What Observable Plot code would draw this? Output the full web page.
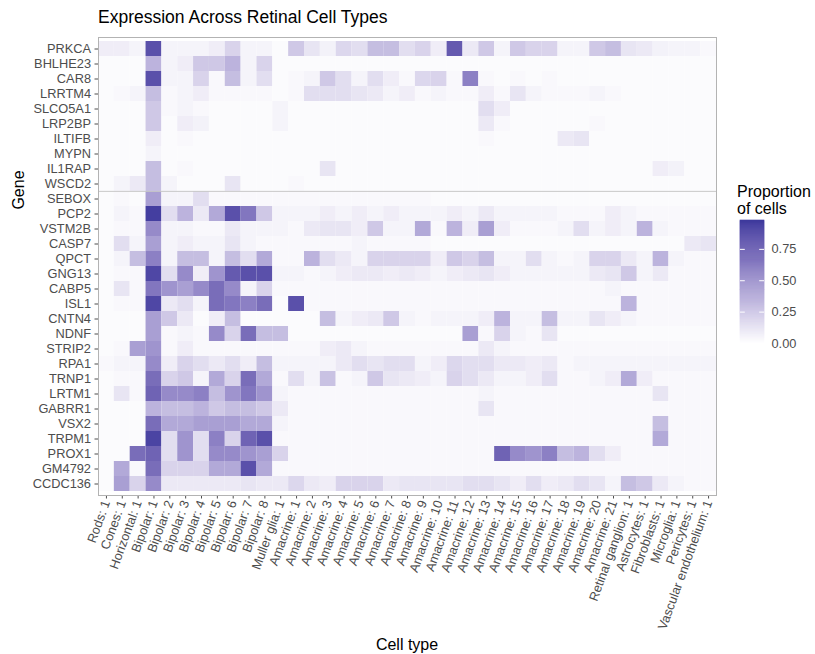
<!DOCTYPE html>
<html><head><meta charset="utf-8">
<script src="https://cdn.jsdelivr.net/npm/d3@7"></script>
<script src="https://cdn.jsdelivr.net/npm/@observablehq/plot@0.6"></script>
<style>
body{margin:0;background:#fff;font-family:"Liberation Sans",Arial,sans-serif;}
#wrap{position:relative;width:815px;height:654px;overflow:hidden;}
#wrap svg{position:absolute;}
.abs{position:absolute;white-space:nowrap;color:#000;}
</style></head><body>
<div id="wrap">
<div id="main"></div>
<div id="leg"></div>
<div class="abs" style="left:98px;top:9px;font-size:17.5px;line-height:17.5px;">Expression Across Retinal Cell Types</div>
<div class="abs" style="left:19px;top:190px;font-size:16px;line-height:16px;transform:translate(-50%,-50%) rotate(-90deg);">Gene</div>
<div class="abs" style="left:407px;top:645px;font-size:16px;line-height:16px;transform:translate(-50%,-50%);">Cell type</div>
<div class="abs" style="left:737px;top:183px;font-size:16px;line-height:17px;">Proportion<br>of cells</div>
</div>
<script>
const cellTypes = ["Rods: 1","Cones: 1","Horizontal: 1","Bipolar: 1","Bipolar: 2","Bipolar: 3","Bipolar: 4","Bipolar: 5","Bipolar: 6","Bipolar: 7","Bipolar: 8","Muller glia: 1",
"Amacrine: 1","Amacrine: 2","Amacrine: 3","Amacrine: 4","Amacrine: 5","Amacrine: 6","Amacrine: 7","Amacrine: 8","Amacrine: 9","Amacrine: 10","Amacrine: 11","Amacrine: 12","Amacrine: 13","Amacrine: 14","Amacrine: 15","Amacrine: 16","Amacrine: 17","Amacrine: 18","Amacrine: 19","Amacrine: 20","Amacrine: 21",
"Retinal ganglion: 1","Astrocytes: 1","Fibroblasts: 1","Microglia: 1","Pericytes: 1","Vascular endothelium: 1"];
const genes = ["PRKCA","BHLHE23","CAR8","LRRTM4","SLCO5A1","LRP2BP","ILTIFB","MYPN","IL1RAP","WSCD2","SEBOX","PCP2","VSTM2B","CASP7","QPCT","GNG13","CABP5","ISL1","CNTN4","NDNF","STRIP2","RPA1","TRNP1","LRTM1","GABRR1","VSX2","TRPM1","PROX1","GM4792","CCDC136"];
const legendTicks = [0, 0.25, 0.5, 0.75];

// proportion of cells per gene, in cellTypes order
const PRKCA   = [0.08,0.08,0.05,0.85,0.05,0.05,0.05,0.08,0.20,0.05,0.05,0.02, 0.25,0.12,0.06,0.18,0.15,0.30,0.30,0.15,0.20,0.08,0.80,0.10,0.25,0.05,0.25,0.20,0.20,0.05,0.05,0.25,0.30, 0.12,0.10,0.06,0.05,0.05,0.03];
const BHLHE23 = [0.02,0.02,0.02,0.35,0.05,0.08,0.25,0.25,0.35,0.05,0.20,0.02, 0.02,0.02,0.02,0.02,0.02,0.02,0.02,0.02,0.02,0.02,0.02,0.02,0.02,0.02,0.02,0.02,0.02,0.02,0.02,0.02,0.02, 0.02,0.02,0.02,0.02,0.02,0.02];
const CAR8    = [0.02,0.02,0.02,0.85,0.05,0.05,0.20,0.03,0.30,0.05,0.15,0.02, 0.03,0.05,0.25,0.15,0.05,0.15,0.08,0.03,0.18,0.20,0.03,0.60,0.03,0.02,0.03,0.02,0.03,0.02,0.02,0.02,0.02, 0.02,0.02,0.02,0.02,0.02,0.02];
const LRRTM4  = [0.02,0.03,0.05,0.30,0.03,0.05,0.08,0.03,0.03,0.03,0.03,0.02, 0.03,0.15,0.15,0.15,0.12,0.10,0.05,0.08,0.03,0.05,0.03,0.03,0.08,0.03,0.12,0.05,0.03,0.03,0.03,0.05,0.03, 0.02,0.02,0.02,0.02,0.02,0.02];
const SLCO5A1 = [0.02,0.02,0.02,0.25,0.03,0.05,0.03,0.02,0.02,0.02,0.02,0.05, 0.02,0.02,0.02,0.02,0.02,0.02,0.02,0.02,0.02,0.02,0.02,0.02,0.15,0.08,0.02,0.02,0.02,0.02,0.02,0.02,0.02, 0.02,0.02,0.02,0.02,0.02,0.02];
const LRP2BP  = [0.02,0.02,0.02,0.25,0.02,0.08,0.06,0.02,0.02,0.02,0.02,0.05, 0.02,0.02,0.02,0.02,0.02,0.02,0.02,0.02,0.02,0.02,0.02,0.02,0.10,0.03,0.02,0.02,0.02,0.02,0.02,0.03,0.02, 0.02,0.02,0.02,0.02,0.02,0.02];
const ILTIFB  = [0.02,0.02,0.02,0.08,0.02,0.03,0.02,0.02,0.02,0.02,0.02,0.02, 0.02,0.02,0.02,0.02,0.02,0.02,0.02,0.02,0.02,0.02,0.02,0.02,0.03,0.02,0.02,0.02,0.02,0.10,0.12,0.02,0.02, 0.02,0.02,0.02,0.02,0.02,0.02];
const MYPN    = [0.02,0.02,0.02,0.05,0.02,0.02,0.02,0.02,0.02,0.02,0.02,0.02, 0.02,0.02,0.02,0.02,0.02,0.02,0.02,0.02,0.02,0.02,0.02,0.02,0.02,0.02,0.02,0.02,0.02,0.02,0.02,0.02,0.02, 0.02,0.02,0.02,0.02,0.02,0.02];
const IL1RAP  = [0.02,0.02,0.02,0.30,0.02,0.03,0.02,0.02,0.02,0.02,0.02,0.02, 0.02,0.02,0.12,0.02,0.02,0.02,0.02,0.02,0.02,0.02,0.02,0.02,0.02,0.02,0.02,0.02,0.02,0.02,0.02,0.02,0.02, 0.02,0.02,0.08,0.06,0.02,0.02];
const WSCD2   = [0.02,0.05,0.10,0.30,0.05,0.02,0.02,0.02,0.12,0.02,0.02,0.02, 0.03,0.02,0.02,0.02,0.02,0.02,0.02,0.02,0.02,0.02,0.02,0.02,0.02,0.02,0.02,0.02,0.02,0.02,0.02,0.02,0.02, 0.02,0.02,0.02,0.02,0.02,0.02];
const SEBOX   = [0.02,0.03,0.02,0.45,0.05,0.05,0.15,0.03,0.03,0.03,0.03,0.03, 0.03,0.03,0.03,0.03,0.03,0.03,0.03,0.03,0.03,0.02,0.02,0.02,0.02,0.02,0.02,0.02,0.02,0.02,0.02,0.02,0.02, 0.02,0.02,0.02,0.02,0.02,0.02];
const PCP2    = [0.02,0.05,0.03,0.95,0.15,0.35,0.10,0.40,0.85,0.65,0.25,0.05, 0.05,0.05,0.08,0.05,0.08,0.05,0.08,0.05,0.05,0.05,0.08,0.05,0.10,0.05,0.05,0.05,0.05,0.03,0.03,0.03,0.08, 0.05,0.03,0.03,0.03,0.03,0.03];
const VSTM2B  = [0.02,0.03,0.03,0.55,0.05,0.05,0.03,0.03,0.10,0.05,0.05,0.05, 0.03,0.10,0.12,0.12,0.08,0.25,0.05,0.05,0.40,0.03,0.35,0.08,0.45,0.08,0.03,0.03,0.03,0.05,0.15,0.05,0.08, 0.05,0.35,0.05,0.03,0.03,0.03];
const CASP7   = [0.02,0.15,0.05,0.45,0.05,0.08,0.05,0.05,0.12,0.05,0.03,0.03, 0.03,0.03,0.03,0.03,0.05,0.03,0.03,0.03,0.03,0.02,0.02,0.02,0.02,0.02,0.02,0.02,0.02,0.02,0.02,0.02,0.02, 0.02,0.02,0.02,0.02,0.10,0.12];
const QPCT    = [0.02,0.05,0.30,0.60,0.05,0.30,0.30,0.05,0.30,0.15,0.40,0.03, 0.03,0.35,0.15,0.10,0.05,0.20,0.20,0.20,0.20,0.08,0.25,0.20,0.30,0.05,0.05,0.15,0.05,0.03,0.05,0.20,0.20, 0.10,0.05,0.35,0.05,0.03,0.03];
const GNG13   = [0.02,0.03,0.03,0.90,0.15,0.55,0.08,0.50,0.80,0.85,0.85,0.05, 0.05,0.03,0.05,0.08,0.10,0.10,0.08,0.10,0.08,0.05,0.08,0.10,0.12,0.08,0.05,0.05,0.05,0.05,0.05,0.10,0.12, 0.25,0.05,0.10,0.03,0.03,0.03];
const CABP5   = [0.02,0.12,0.03,0.65,0.50,0.45,0.55,0.70,0.55,0.05,0.20,0.03, 0.03,0.03,0.03,0.03,0.03,0.03,0.03,0.03,0.03,0.03,0.03,0.03,0.03,0.03,0.03,0.03,0.03,0.03,0.03,0.03,0.05, 0.03,0.03,0.03,0.03,0.03,0.03];
const ISL1    = [0.02,0.03,0.03,0.90,0.10,0.15,0.05,0.70,0.65,0.60,0.70,0.02, 0.85,0.03,0.03,0.03,0.03,0.03,0.03,0.03,0.03,0.03,0.03,0.03,0.03,0.03,0.03,0.03,0.03,0.03,0.03,0.03,0.03, 0.35,0.03,0.03,0.03,0.03,0.03];
const CNTN4   = [0.02,0.02,0.02,0.45,0.25,0.10,0.02,0.08,0.30,0.02,0.02,0.02, 0.02,0.02,0.30,0.05,0.08,0.10,0.25,0.05,0.03,0.05,0.05,0.05,0.08,0.35,0.05,0.05,0.30,0.05,0.05,0.12,0.08, 0.05,0.03,0.03,0.03,0.03,0.03];
const NDNF    = [0.02,0.02,0.02,0.45,0.03,0.05,0.03,0.55,0.20,0.70,0.30,0.30, 0.02,0.02,0.02,0.02,0.02,0.02,0.02,0.02,0.02,0.02,0.02,0.45,0.03,0.20,0.05,0.03,0.12,0.02,0.02,0.02,0.02, 0.02,0.02,0.02,0.02,0.02,0.02];
const STRIP2  = [0.02,0.03,0.45,0.50,0.03,0.08,0.03,0.03,0.03,0.03,0.03,0.03, 0.03,0.03,0.08,0.10,0.05,0.03,0.03,0.03,0.03,0.03,0.03,0.03,0.10,0.05,0.03,0.03,0.03,0.03,0.03,0.03,0.03, 0.03,0.03,0.03,0.03,0.03,0.03];
const RPA1    = [0.03,0.05,0.05,0.55,0.08,0.20,0.15,0.10,0.15,0.08,0.30,0.05, 0.05,0.05,0.05,0.10,0.15,0.12,0.15,0.15,0.05,0.08,0.18,0.15,0.15,0.10,0.10,0.08,0.10,0.03,0.05,0.05,0.05, 0.05,0.05,0.05,0.05,0.05,0.05];
const TRNP1   = [0.02,0.03,0.03,0.70,0.20,0.25,0.05,0.40,0.20,0.70,0.40,0.03, 0.15,0.05,0.28,0.03,0.05,0.25,0.12,0.10,0.08,0.05,0.20,0.15,0.10,0.05,0.05,0.08,0.15,0.03,0.03,0.05,0.08, 0.40,0.08,0.03,0.03,0.03,0.03];
const LRTM1   = [0.02,0.12,0.03,0.75,0.55,0.55,0.60,0.30,0.50,0.65,0.50,0.05, 0.03,0.03,0.03,0.03,0.03,0.03,0.03,0.03,0.03,0.03,0.03,0.03,0.05,0.03,0.03,0.03,0.03,0.03,0.03,0.03,0.03, 0.03,0.03,0.12,0.03,0.03,0.03];
const GABRR1  = [0.02,0.02,0.02,0.35,0.30,0.30,0.35,0.25,0.30,0.30,0.25,0.10, 0.03,0.03,0.03,0.03,0.03,0.03,0.03,0.03,0.03,0.03,0.03,0.03,0.12,0.03,0.03,0.03,0.03,0.03,0.03,0.03,0.03, 0.03,0.03,0.03,0.03,0.03,0.03];
const VSX2    = [0.02,0.02,0.02,0.70,0.40,0.40,0.45,0.45,0.45,0.40,0.40,0.05, 0.03,0.03,0.03,0.03,0.03,0.03,0.03,0.03,0.03,0.03,0.03,0.03,0.03,0.03,0.03,0.03,0.03,0.03,0.03,0.03,0.03, 0.03,0.03,0.30,0.03,0.03,0.03];
const TRPM1   = [0.02,0.02,0.02,0.92,0.15,0.50,0.15,0.60,0.20,0.75,0.85,0.03, 0.03,0.03,0.03,0.03,0.03,0.03,0.03,0.03,0.03,0.03,0.03,0.03,0.03,0.03,0.03,0.03,0.03,0.03,0.03,0.03,0.03, 0.03,0.03,0.40,0.03,0.03,0.03];
const PROX1   = [0.02,0.02,0.70,0.75,0.15,0.50,0.15,0.55,0.55,0.50,0.45,0.20, 0.03,0.03,0.03,0.03,0.03,0.03,0.03,0.03,0.03,0.03,0.03,0.03,0.03,0.75,0.55,0.50,0.60,0.30,0.35,0.15,0.08, 0.03,0.03,0.03,0.03,0.03,0.03];
const GM4792  = [0.02,0.40,0.03,0.70,0.20,0.20,0.20,0.40,0.40,0.85,0.40,0.03, 0.03,0.03,0.03,0.03,0.03,0.03,0.03,0.03,0.03,0.03,0.03,0.03,0.03,0.03,0.03,0.03,0.03,0.03,0.03,0.03,0.03, 0.03,0.03,0.03,0.03,0.03,0.03];
const CCDC136 = [0.02,0.45,0.20,0.55,0.10,0.10,0.10,0.10,0.10,0.12,0.10,0.10, 0.18,0.10,0.08,0.20,0.20,0.20,0.10,0.12,0.12,0.12,0.12,0.15,0.15,0.12,0.08,0.15,0.08,0.10,0.15,0.12,0.05, 0.30,0.25,0.10,0.05,0.03,0.03];

const geneRows = [PRKCA,BHLHE23,CAR8,LRRTM4,SLCO5A1,LRP2BP,ILTIFB,MYPN,IL1RAP,WSCD2,SEBOX,PCP2,VSTM2B,CASP7,QPCT,GNG13,CABP5,ISL1,CNTN4,NDNF,STRIP2,RPA1,TRNP1,LRTM1,GABRR1,VSX2,TRPM1,PROX1,GM4792,CCDC136];

geneRows.forEach((r, i) => { if (r.length !== cellTypes.length) throw new Error(genes[i] + " has " + r.length); });

const data = genes.flatMap((g, gi) => geneRows[gi].map((v, ci) => ({gene: g, cell: cellTypes[ci], value: v})));

const VMAX = 0.98;
const colorOpts = {type: "linear", domain: [0, VMAX], range: ["#ffffff", "#3d399d"], interpolate: "lab"};

const W = 815, H = 654, MT = 37, MB = 159, ML = 98, MR = 99;
const bw = (H - MT - MB) / genes.length;

const chart = Plot.plot({
  width: W, height: H,
  marginTop: MT, marginBottom: MB, marginLeft: ML, marginRight: MR,
  style: {fontFamily: "'Liberation Sans', Arial, sans-serif", fontSize: "12.8px", color: "#4d4d4d", background: "transparent", overflow: "visible"},
  x: {type: "band", domain: cellTypes, padding: 0, tickRotate: -70, tickSize: 3.5, tickPadding: 2, label: null},
  y: {type: "band", domain: genes, padding: 0, tickSize: 3.5, tickPadding: 4, label: null},
  color: colorOpts,
  marks: [
    Plot.cell(data, {x: "cell", y: "gene", fill: "value", inset: 0}),
    Plot.ruleY(["SEBOX"], {dy: -bw / 2, stroke: "#c8c8c8", strokeWidth: 1}),
    Plot.frame({stroke: "#b3b3b3"})
  ]
});
chart.style.left = "0px"; chart.style.top = "0px";
document.getElementById("main").appendChild(chart);

// vertical colour bar legend
const steps = d3.range(0, 120).map(i => ({y1: VMAX * i / 120, y2: VMAX * (i + 1) / 120, v: VMAX * (i + 0.5) / 120}));
const legend = Plot.plot({
  width: 75, height: 130,
  marginTop: 3, marginBottom: 4, marginLeft: 0, marginRight: 51,
  style: {fontFamily: "'Liberation Sans', Arial, sans-serif", fontSize: "12.8px", color: "#4d4d4d", background: "transparent", overflow: "visible"},
  x: {domain: [0, 1], axis: null},
  y: {domain: [0, VMAX], axis: "right", ticks: legendTicks, tickFormat: d3.format(".2f"), tickSize: 0, tickPadding: 7, label: null},
  color: colorOpts,
  marks: [
    Plot.rect(steps, {x1: 0, x2: 1, y1: "y1", y2: "y2", fill: "v", stroke: "v", strokeWidth: 0.6}),
    Plot.ruleY(legendTicks, {x1: 0, x2: 0.2, stroke: "white", strokeWidth: 1}),
    Plot.ruleY(legendTicks, {x1: 0.8, x2: 1, stroke: "white", strokeWidth: 1})
  ]
});
legend.style.left = "740px"; legend.style.top = "217px";
document.getElementById("leg").appendChild(legend);
</script>
</body></html>
